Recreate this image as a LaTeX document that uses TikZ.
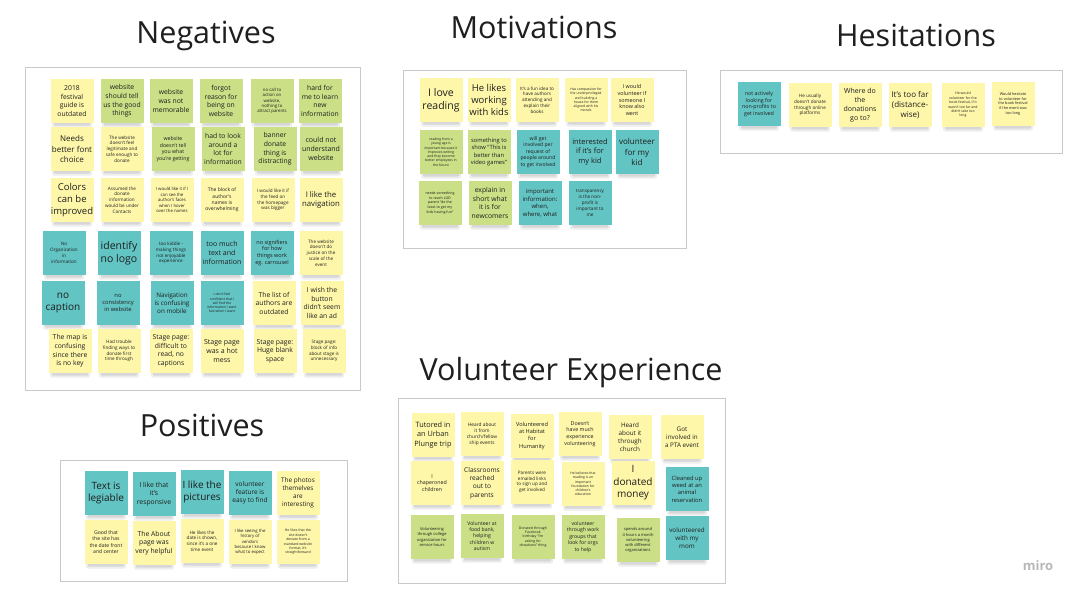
\documentclass[tikz,border=0pt]{standalone}
\usepackage{fontspec}
\setmainfont{Open Sans}
\begin{document}
\definecolor{stY}{HTML}{FEF7A9}
\definecolor{stG}{HTML}{CADF86}
\definecolor{stT}{HTML}{62C4C3}
\definecolor{ink}{HTML}{1E1E1E}
\definecolor{frameline}{HTML}{C9C9C9}
\tikzset{
  sticky/.style={draw=none,minimum width=43,minimum height=44,inner sep=0pt,
    align=center,text=ink},
  yel/.style={fill=stY},
  grn/.style={fill=stG},
  tea/.style={fill=stT},
  board/.style={draw=frameline,line width=0.9pt,fill=white},
  heading/.style={font=\fontsize{30.5}{36}\selectfont,text=black!88,anchor=base,inner sep=0pt},
}
% \sticky{name}{x}{y}{colour style}{font size}{text}
\newcommand\sticky[6]{%
  \fill[black,opacity=.07,rounded corners=1.5] (#2-20,#3+19) rectangle (#2+20,#3+26.5);
  \fill[black,opacity=.09,rounded corners=1] (#2-18,#3+20) rectangle (#2+18,#3+24.5);
  \node[sticky,#4,font=\fontsize{#5}{\fpeval{#5*1.26}}\selectfont] (#1) at (#2,#3) {#6};}
\begin{tikzpicture}[x=1pt,y=-1pt]
\useasboundingbox (0,0) rectangle (1080,597);
\fill[white] (0,0) rectangle (1080,597);

% boards
\draw[board] (25,67) rectangle (360,390);
\draw[board] (403,70) rectangle (686,248);
\draw[board] (720,70) rectangle (1062,153);
\draw[board] (60,460) rectangle (347,581);
\draw[board] (398,398) rectangle (725,583);

% headings
\node[heading] (tNeg) at (206,43) {Negatives};
\node[heading] (tMot) at (534,38) {Motivations};
\node[heading] (tHes) at (916,46) {Hesitations};
\node[heading] (tPos) at (202,436) {Positives};
\node[heading] (tVol) at (571,380) {Volunteer Experience};

% ---- Negatives
\sticky{n11}{72}{101}{yel}{6.8}{2018\\festival\\guide is\\outdated}
\sticky{n12}{122}{101}{grn}{6.8}{website\\should tell\\us the good\\things}
\sticky{n13}{171}{101}{grn}{6.8}{website\\was not\\memorable}
\sticky{n14}{221}{101}{grn}{6.8}{forgot\\reason for\\being on\\website}
\sticky{n15}{272}{101}{grn}{4.3}{no call to\\action on\\website,\\nothing to\\attract parents}
\sticky{n16}{320}{101}{grn}{6.8}{hard for\\me to learn\\new\\information}

\sticky{n21}{72}{149}{yel}{8}{Needs\\better font\\choice}
\sticky{n22}{122}{149}{yel}{4.6}{The website\\doesn't feel\\legitimate and\\safe enough to\\donate}
\sticky{n23}{173}{149}{grn}{5.2}{website\\doesn't tell\\you what\\you're getting}
\sticky{n24}{223}{149}{grn}{6.8}{had to look\\around a\\lot for\\information}
\sticky{n25}{275}{149}{grn}{6.8}{banner\\donate\\thing is\\distracting}
\sticky{n26}{321}{149}{grn}{7}{could not\\understand\\website}

\sticky{n31}{72}{200}{yel}{9.5}{Colors\\can be\\improved}
\sticky{n32}{122}{200}{yel}{4.6}{Assumed the\\donate\\information\\would be under\\Contacts}
\sticky{n33}{172}{200}{yel}{4.3}{I would like it if I\\can see the\\author's faces\\when I hover\\over the names}
\sticky{n34}{222}{200}{yel}{5}{The block of\\author's\\names is\\overwhelming}
\sticky{n35}{273}{200}{yel}{4.6}{I would like it if\\the feed on\\the homepage\\was bigger}
\sticky{n36}{321}{200}{yel}{7.8}{I like the\\navigation}

\sticky{n41}{64}{253}{tea}{4.6}{No\\Organization\\in\\information}
\sticky{n42}{119}{253}{tea}{10.5}{identify\\no logo}
\sticky{n43}{171}{253}{tea}{4.6}{too kiddie -\\making things\\not enjoyable\\experience}
\sticky{n44}{222}{253}{tea}{7}{too much\\text and\\information}
\sticky{n45}{272}{253}{tea}{5.5}{no signifiers\\for how\\things work\\eg. carrousel}
\sticky{n46}{321}{253}{yel}{4.6}{The website\\doesn't do\\justice on the\\scale of the\\event}

\sticky{n51}{63}{303}{tea}{10}{no\\caption}
\sticky{n52}{118}{303}{tea}{5.8}{no\\consistency\\in website}
\sticky{n53}{172}{303}{tea}{6.3}{Navigation\\is confusing\\on mobile}
\sticky{n54}{222}{303}{tea}{3.4}{I don't feel\\confident that I\\will find the\\information I want\\fast when I want}
\sticky{n55}{274}{303}{yel}{6.8}{The list of\\authors are\\outdated}
\sticky{n56}{322}{303}{yel}{6.8}{I wish the\\button\\didn't seem\\like an ad}

\sticky{n61}{70}{351}{yel}{6.8}{The map is\\confusing\\since there\\is no key}
\sticky{n62}{119}{351}{yel}{4.6}{Had trouble\\finding ways to\\donate first\\time through}
\sticky{n63}{171}{351}{yel}{6.8}{Stage page:\\difficult to\\read, no\\captions}
\sticky{n64}{222}{351}{yel}{7}{Stage page\\was a hot\\mess}
\sticky{n65}{275}{351}{yel}{6.8}{Stage page:\\Huge blank\\space}
\sticky{n66}{324}{351}{yel}{4.6}{Stage page:\\block of info\\about stage is\\unnecessary}

% ---- Motivations
\sticky{m11}{441}{100}{yel}{10.5}{I love\\reading}
\sticky{m12}{489}{100}{yel}{9.5}{He likes\\working\\with kids}
\sticky{m13}{537}{100}{yel}{4.6}{It's a fun idea to\\have authors\\attending and\\explain their\\books}
\sticky{m14}{586}{100}{yel}{3.4}{Has compassion for\\the underprivileged\\and building a\\house for them\\aligned with his\\morals}
\sticky{m15}{632}{100}{yel}{5.4}{I would\\volunteer if\\someone I\\know also\\went}

\sticky{m21}{441}{152}{grn}{3.4}{reading from a\\young age is\\important because it\\improves writing\\and they become\\better employees in\\the future}
\sticky{m22}{489}{152}{grn}{5.8}{something to\\show ``This is\\better than\\video games''}
\sticky{m23}{538}{152}{tea}{5.1}{will get\\involved per\\request of\\people around\\to get involved}
\sticky{m24}{590}{152}{tea}{7.5}{interested\\if it's for\\my kid}
\sticky{m25}{637}{152}{tea}{8}{volunteer\\for my\\kid}

\sticky{m31}{440}{203}{grn}{3.6}{needs something\\to reach LGD\\parent ``do the\\least to get my\\kids having fun''}
\sticky{m32}{490}{203}{grn}{6.8}{explain in\\short what\\it is for\\newcomers}
\sticky{m33}{540}{203}{tea}{6}{important\\information:\\when,\\where, what}
\sticky{m34}{590}{203}{tea}{4.6}{transparency\\is the non-\\profit is\\important to\\me}

% ---- Hesitations
\sticky{h1}{759}{104}{tea}{5.3}{not actively\\looking for\\non-profits to\\get involved}
\sticky{h2}{810}{105}{yel}{4.6}{He usually\\doesn't donate\\through online\\platforms}
\sticky{h3}{860}{105}{yel}{7}{Where do\\the\\donations\\go to?}
\sticky{h4}{910}{105}{yel}{8}{It's too far\\(distance-\\wise)}
\sticky{h5}{963}{105}{yel}{3.5}{He would\\volunteer for the\\book festival, if it\\wasn't too far and\\didn't take too\\long}
\sticky{h6}{1013}{104}{yel}{3.8}{Would hesitate\\to volunteer for\\the book festival\\if the event was\\too long}

% ---- Positives
\sticky{p11}{106}{493}{tea}{10}{Text is\\legiable}
\sticky{p12}{154}{494}{tea}{6.8}{I like that\\it's\\responsive}
\sticky{p13}{202}{492}{tea}{10}{I like the\\pictures}
\sticky{p14}{250}{493}{tea}{6.5}{volunteer\\feature is\\easy to find}
\sticky{p15}{298}{493}{yel}{6.4}{The photos\\themelves\\are\\interesting}

\sticky{p21}{106}{542}{yel}{5.1}{Good that\\the site has\\the date front\\and center}
\sticky{p22}{154}{543}{yel}{6.8}{The About\\page was\\very helpful}
\sticky{p23}{202}{541}{yel}{4.6}{He likes the\\date is shown,\\since it's a one\\time event}
\sticky{p24}{250}{542}{yel}{4.3}{I like seeing the\\history of\\vendors\\because I know\\what to expect}
\sticky{p25}{298}{542}{yel}{3.5}{He likes that the\\site doesn't\\deviate from a\\standard website\\format, it's\\straightforward}

% ---- Volunteer Experience
\sticky{v11}{433}{435}{yel}{7.3}{Tutored in\\an Urban\\Plunge trip}
\sticky{v12}{482}{434}{yel}{4.8}{Heard about\\it from\\church/fellow\\ship events}
\sticky{v13}{532}{436}{yel}{5.6}{Volunteered\\at Habitat\\for\\Humanity}
\sticky{v14}{580}{434}{yel}{5.3}{Doesn't\\have much\\experience\\volunteering}
\sticky{v15}{630}{437}{yel}{6.3}{Heard\\about it\\through\\church}
\sticky{v16}{682}{437}{yel}{6.3}{Got\\involved in\\a PTA event}

\sticky{v21}{432}{483}{yel}{5.3}{I\\chaperoned\\children}
\sticky{v22}{482}{483}{yel}{6.6}{Classrooms\\reached\\out to\\parents}
\sticky{v23}{532}{482}{yel}{4.6}{Parents were\\emailed links\\to sign up and\\get involved}
\sticky{v24}{583}{484}{yel}{3.4}{He believes that\\reading is an\\important\\foundation for\\children's\\education}
\sticky{v25}{633}{483}{yel}{10}{I\\donated\\money}
\sticky{v26}{687}{489}{tea}{5.8}{Cleaned up\\weed at an\\animal\\reservation}

\sticky{v31}{432}{537}{grn}{4}{Volunteering\\through college\\organization for\\service hours}
\sticky{v32}{482}{536}{grn}{5.1}{Volunteer at\\food bank,\\helping\\children w\\autism}
\sticky{v33}{533}{537}{grn}{3.5}{Donated through\\Facebook\\birthday ``I'm\\asking for\\donations'' thing}
\sticky{v34}{583}{537}{grn}{5.1}{volunteer\\through work\\groups that\\look for orgs\\to help}
\sticky{v35}{638}{540}{grn}{4}{spends around\\4 hours a month\\volunteering\\with different\\organizations}
\sticky{v36}{687}{538}{tea}{6.3}{volunteered\\with my\\mom}

% ---- watermark
\node[font=\fontsize{13}{15}\selectfont\bfseries,text=black!28,inner sep=0pt] (logo) at (1038,566) {miro};
\end{tikzpicture}
\end{document}
